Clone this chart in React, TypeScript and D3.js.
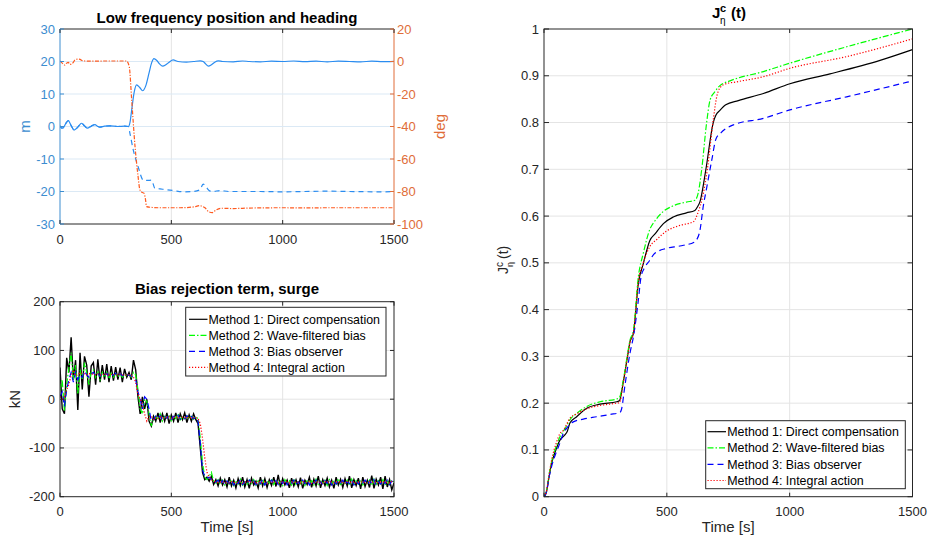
import React from 'react';
import * as d3 from 'd3';

const FONT = "'Liberation Sans', Arial, Helvetica, sans-serif";
const AX = '#262626';
const GRID = '#e4e4e4';
const GRID_BLUE = '#dbe9f5';
const BLUE_AX = '#3c8dd0';
const ORANGE_AX = '#e06d38';
const BLUE_LINE = '#2a8cf0';
const ORANGE_LINE = '#ff5a1f';

// ---------- Top-left: low frequency position and heading ----------
const posXTicks = [0, 500, 1000, 1500];
const posMTicks = [-30, -20, -10, 0, 10, 20, 30];
const headDegTicks = [-100, -80, -60, -40, -20, 0, 20];

const northPos: [number, number][] = [
  [0, 0.2], [8, -0.5], [15, -0.4], [25, 0.8], [37, 1.8], [50, 0.3], [63, -1.1], [80, -0.2],
  [97, 1.0], [110, 0.2], [123, -0.5], [140, 0.1], [157, 0.6], [170, 0.0], [179, -0.2], [200, 0.1],
  [224, 0.2], [260, 0.0], [290, 0.1], [307, 0.0], [315, 1.5], [322, 5.1], [333, 10.5], [344, 12.8],
  [358, 12.0], [371, 11.0], [385, 12.5], [400, 16.5], [411, 19.5], [422, 20.9], [435, 20.3],
  [448, 19.2], [461, 18.6], [475, 19.0], [490, 19.8], [508, 20.5], [530, 20.0], [568, 19.8],
  [600, 20.0], [630, 20.2], [643, 20.0], [655, 19.2], [666, 18.6], [680, 19.0], [695, 19.8],
  [711, 20.2], [730, 20.0], [778, 19.9], [820, 20.15], [850, 20.0], [900, 19.9], [950, 20.1],
  [1000, 20.0], [1050, 20.15], [1100, 19.95], [1150, 20.1], [1200, 19.9], [1250, 20.1],
  [1300, 20.0], [1350, 19.9], [1400, 20.1], [1450, 19.95], [1500, 20.05],
];

const eastPos: [number, number][] = [
  [0, 0.2], [8, -0.5], [15, -0.4], [25, 0.8], [37, 1.8], [50, 0.3], [63, -1.1], [80, -0.2],
  [97, 1.0], [110, 0.2], [123, -0.5], [140, 0.1], [157, 0.6], [170, 0.0], [179, -0.2], [200, 0.1],
  [224, 0.2], [260, 0.0], [290, 0.1], [307, 0.0], [314, -2.1], [329, -7.2], [351, -12.4],
  [374, -16.5], [395, -16.6], [411, -16.5], [426, -19.0], [449, -19.2], [508, -19.7], [560, -20.1],
  [598, -20.0], [628, -19.5], [643, -17.7], [658, -18.8], [672, -19.8], [688, -20.0], [718, -19.7],
  [760, -20.0], [900, -20.0], [1000, -20.1], [1100, -20.0], [1200, -19.9], [1300, -20.0],
  [1450, -20.1], [1500, -20.0],
];

const headingDeg: [number, number][] = [
  [0, 0.3], [10, -1.0], [22, -2.2], [30, -1.0], [37, -0.5], [45, -1.8], [52, -1.5], [60, -0.5],
  [67, 0.9], [80, 1.5], [90, 1.3], [100, 0.5], [112, 0.3], [150, 0.2], [200, 0.3], [250, 0.3],
  [299, 0.3], [311, -3.2], [322, -23.7], [337, -52.4], [350, -70.0], [359, -79.0], [368, -80.5],
  [377, -81.0], [383, -84.0], [389, -89.3], [404, -89.7], [450, -90.0], [539, -90.0], [600, -89.5],
  [628, -88.7], [640, -89.2], [651, -90.0], [668, -92.5], [684, -93.0], [700, -91.5], [725, -90.3],
  [778, -90.5], [850, -90.2], [1000, -90.0], [1100, -90.1], [1200, -90.0], [1300, -90.0],
  [1400, -90.0], [1500, -90.0],
];

// ---------- Bottom-left: bias rejection term, surge (kN, every 10 s) ----------
const biasTime = d3.range(0, 1501, 10);
const biasYTicks = [-200, -100, 0, 100, 200];

const biasM1 = [
  65, -20, -30, 85, 55, 127, 40, 80,
  -22, 95, 20, 88, 70, 5, 68, 75,
  30, 82, 35, 70, 40, 72, 35, 68,
  38, 66, 40, 65, 35, 62, 45, 55,
  40, 80, 60, 5, -30, 5, -20, 0,
  -45, -55, -35, -45, -28, -48, -30, -45,
  -28, -50, -32, -45, -28, -48, -30, -42,
  -28, -48, -32, -45, -30, -42, -50, -100,
  -150, -165, -160, -168, -158, -175, -165, -178,
  -162, -176, -165, -180, -160, -178, -166, -182,
  -163, -177, -160, -180, -165, -183, -162, -176,
  -168, -182, -160, -178, -163, -181, -165, -177,
  -160, -179, -155, -181, -163, -176, -166, -182,
  -162, -178, -165, -180, -161, -183, -166, -175,
  -160, -181, -164, -178, -158, -182, -165, -177,
  -162, -180, -166, -183, -160, -176, -164, -181,
  -163, -178, -158, -182, -165, -177, -162, -184,
  -160, -179, -166, -181, -157, -183, -164, -176,
  -160, -184, -158, -180, -165, -186, -172,
];
const biasM2 = [
  20, 40, -25, 30, 65, 95, 40, 70,
  10, 60, 40, 75, 55, 30, 55, 60,
  45, 58, 40, 55, 45, 55, 42, 55,
  45, 52, 46, 52, 45, 50, 48, 50,
  45, 55, 50, 20, -20, -30, 0, -5,
  -30, -55, -40, -35, -42, -30, -45, -35,
  -40, -32, -44, -35, -40, -30, -42, -36,
  -42, -34, -40, -33, -41, -36, -40, -80,
  -130, -160, -165, -158, -150, -168, -172, -165,
  -175, -166, -176, -168, -174, -165, -177, -167,
  -174, -164, -176, -168, -175, -166, -173, -165,
  -176, -167, -174, -164, -177, -168, -172, -163,
  -175, -166, -174, -168, -177, -165, -173, -167,
  -176, -164, -175, -168, -174, -166, -177, -165,
  -173, -167, -176, -164, -175, -168, -172, -166,
  -177, -165, -174, -167, -176, -163, -175, -168,
  -173, -166, -177, -164, -175, -167, -174, -165,
  -176, -168, -173, -166, -177, -164, -175, -167,
  -174, -165, -176, -168, -175, -166, -170,
];
const biasM3 = [
  5, 15, -15, 20, 40, 55, 35, 55,
  40, 50, 45, 58, 50, 45, 52, 55,
  48, 53, 47, 52, 49, 53, 47, 51,
  49, 53, 47, 52, 48, 51, 49, 50,
  47, 45, 40, 15, 0, -20, 5, 0,
  -20, -45, -42, -35, -40, -34, -42, -36,
  -39, -33, -41, -35, -38, -33, -41, -37,
  -40, -34, -39, -35, -40, -37, -45, -90,
  -145, -158, -162, -160, -165, -170, -170, -166,
  -174, -167, -175, -168, -173, -166, -176, -168,
  -173, -165, -175, -169, -174, -166, -172, -167,
  -175, -168, -173, -165, -176, -169, -172, -166,
  -174, -167, -175, -168, -173, -165, -176, -168,
  -172, -166, -175, -169, -174, -166, -173, -167,
  -176, -168, -172, -166, -174, -169, -175, -167,
  -173, -165, -176, -168, -174, -167, -172, -166,
  -175, -169, -173, -166, -176, -168, -174, -167,
  -172, -166, -175, -168, -173, -165, -176, -169,
  -174, -167, -173, -166, -175, -168, -171,
];
const biasM4 = [
  5, 0, 5, 20, 30, 50, 60, 48,
  50, 55, 52, 52, 50, 53, 51, 52,
  50, 52, 49, 51, 50, 52, 49, 51,
  50, 51, 49, 51, 50, 50, 49, 50,
  48, 45, 35, 10, 0, -10, -30, -45,
  -35, -35, -42, -38, -40, -36, -39, -37,
  -38, -36, -39, -37, -38, -36, -39, -37,
  -38, -36, -39, -37, -38, -38, -40, -50,
  -80, -120, -150, -160, -165, -168, -170, -171,
  -170, -169, -171, -170, -172, -169, -171, -170,
  -171, -169, -172, -170, -170, -168, -171, -170,
  -172, -169, -170, -171, -169, -172, -170, -169,
  -171, -170, -172, -169, -170, -171, -169, -172,
  -170, -169, -171, -170, -172, -169, -170, -171,
  -169, -172, -170, -169, -171, -170, -172, -169,
  -170, -171, -169, -172, -170, -169, -171, -170,
  -172, -169, -170, -171, -169, -172, -170, -169,
  -171, -170, -172, -169, -170, -171, -169, -172,
  -170, -169, -171, -170, -172, -169, -170,
];

// ---------- Right: J^c_eta(t) ----------
const jYTicks = [0, 0.1, 0.2, 0.3, 0.4, 0.5, 0.6, 0.7, 0.8, 0.9, 1];
const jM1: [number, number][] = [
  [0, 0], [10, 0.01], [20, 0.04], [31, 0.071], [45, 0.095], [65, 0.121], [85, 0.132], [95, 0.14],
  [106, 0.158], [133, 0.171], [174, 0.189], [228, 0.198], [296, 0.203], [307, 0.205], [323, 0.246],
  [340, 0.3], [350, 0.331], [364, 0.349], [384, 0.456], [404, 0.498], [431, 0.548], [452, 0.562],
  [486, 0.584], [526, 0.598], [580, 0.607], [614, 0.612], [625, 0.62], [635, 0.631], [659, 0.7],
  [689, 0.8], [700, 0.816], [716, 0.826], [740, 0.838], [791, 0.847], [893, 0.862], [1001, 0.883],
  [1164, 0.904], [1368, 0.933], [1500, 0.956],
];
const jM2: [number, number][] = [
  [0, 0], [10, 0.012], [20, 0.045], [31, 0.075], [45, 0.1], [65, 0.128], [85, 0.145], [106, 0.165],
  [133, 0.178], [174, 0.193], [228, 0.203], [296, 0.209], [307, 0.212], [323, 0.25], [340, 0.305],
  [350, 0.335], [364, 0.355], [384, 0.47], [404, 0.52], [431, 0.572], [452, 0.59], [486, 0.61],
  [526, 0.622], [580, 0.63], [615, 0.634], [628, 0.65], [642, 0.7], [662, 0.8], [676, 0.848],
  [696, 0.866], [716, 0.879], [757, 0.889], [893, 0.909], [1001, 0.927], [1232, 0.962], [1500, 1.0],
];
const jM3: [number, number][] = [
  [0, 0], [10, 0.01], [20, 0.04], [31, 0.065], [50, 0.095], [65, 0.115], [79, 0.136], [95, 0.148],
  [119, 0.16], [160, 0.166], [214, 0.171], [270, 0.176], [309, 0.18], [315, 0.186], [330, 0.24],
  [350, 0.307], [365, 0.345], [384, 0.42], [395, 0.47], [410, 0.49], [430, 0.505], [450, 0.52],
  [499, 0.531], [553, 0.536], [614, 0.545], [621, 0.549], [635, 0.57], [648, 0.62], [662, 0.66],
  [683, 0.72], [700, 0.765], [720, 0.778], [771, 0.795], [893, 0.809], [1001, 0.827],
  [1232, 0.855], [1500, 0.889],
];
const jM4: [number, number][] = [
  [0, 0], [10, 0.012], [20, 0.045], [31, 0.078], [50, 0.115], [65, 0.135], [79, 0.142], [106, 0.168],
  [133, 0.177], [174, 0.188], [228, 0.195], [296, 0.2], [307, 0.201], [323, 0.245], [340, 0.3],
  [350, 0.33], [364, 0.35], [384, 0.46], [404, 0.5], [431, 0.535], [459, 0.55], [499, 0.568],
  [553, 0.58], [608, 0.588], [628, 0.609], [645, 0.64], [665, 0.7], [690, 0.81], [703, 0.855],
  [716, 0.874], [736, 0.882], [784, 0.887], [893, 0.898], [1001, 0.916], [1232, 0.941], [1500, 0.979],
];

const legendLabels = [
  'Method 1: Direct compensation',
  'Method 2: Wave-filtered bias',
  'Method 3: Bias observer',
  'Method 4: Integral action',
];
const methodColors = ['#000000', '#00ff00', '#0000ff', '#ff0000'];
const methodDash = ['', '6,2,1.5,2', '6,4', '1.2,1.8'];

type Box = { x0: number; x1: number; y0: number; y1: number };

function XGrid({ box, xs, ticks, gridColor }: { box: Box; xs: d3.ScaleLinear<number, number>; ticks: number[]; gridColor: string }) {
  return (
    <g>
      {ticks.map((t) => (
        <line key={'x' + t} x1={xs(t)} x2={xs(t)} y1={box.y0} y2={box.y1} stroke={gridColor} strokeWidth={1} />
      ))}
    </g>
  );
}

function XTickMarks({ box, xs, ticks }: { box: Box; xs: d3.ScaleLinear<number, number>; ticks: number[] }) {
  return (
    <g>
      {ticks.map((t) => (
        <g key={'xt' + t}>
          <line x1={xs(t)} x2={xs(t)} y1={box.y1} y2={box.y1 - 4} stroke={AX} strokeWidth={1} />
          <line x1={xs(t)} x2={xs(t)} y1={box.y0} y2={box.y0 + 4} stroke={AX} strokeWidth={1} />
          <text x={xs(t)} y={box.y1 + 19.5} textAnchor="middle" fontSize={13} fill={AX} fontFamily={FONT}>
            {t}
          </text>
        </g>
      ))}
    </g>
  );
}

function Legend({ x, y, w, h, rowY, sampleX0, sampleX1, textX }: { x: number; y: number; w: number; h: number; rowY: number[]; sampleX0: number; sampleX1: number; textX: number }) {
  return (
    <g>
      <rect x={x} y={y} width={w} height={h} fill="#ffffff" stroke={AX} strokeWidth={1} />
      {legendLabels.map((lab, i) => (
        <g key={lab}>
          <line x1={sampleX0} x2={sampleX1} y1={rowY[i]} y2={rowY[i]} stroke={methodColors[i]} strokeWidth={1.2} strokeDasharray={methodDash[i] || undefined} />
          <text x={textX} y={rowY[i] + 4.5} fontSize={12.4} fill="#000" fontFamily={FONT}>
            {lab}
          </text>
        </g>
      ))}
    </g>
  );
}

export default function App() {
  // ---------------- top-left ----------------
  const tl: Box = { x0: 60, x1: 394, y0: 29, y1: 224 };
  const tlx = d3.scaleLinear().domain([0, 1500]).range([tl.x0, tl.x1]);
  const tlyL = d3.scaleLinear().domain([-30, 30]).range([tl.y1, tl.y0]);
  const tlyR = d3.scaleLinear().domain([-100, 20]).range([tl.y1, tl.y0]);
  const lineL = d3.line<[number, number]>().x((d) => tlx(d[0])).y((d) => tlyL(d[1])).curve(d3.curveMonotoneX);
  const lineR = d3.line<[number, number]>().x((d) => tlx(d[0])).y((d) => tlyR(d[1])).curve(d3.curveMonotoneX);

  // ---------------- bottom-left ----------------
  const bl: Box = { x0: 60, x1: 394, y0: 301.7, y1: 496.7 };
  const blx = d3.scaleLinear().domain([0, 1500]).range([bl.x0, bl.x1]);
  const bly = d3.scaleLinear().domain([-200, 200]).range([bl.y1, bl.y0]);
  const biasLine = d3.line<number>().x((_, i) => blx(biasTime[i])).y((d) => bly(d));
  const biasSeries = [biasM1, biasM2, biasM3, biasM4];

  // ---------------- right ----------------
  const rb: Box = { x0: 544, x1: 912.5, y0: 29, y1: 496.7 };
  const rx = d3.scaleLinear().domain([0, 1500]).range([rb.x0, rb.x1]);
  const ry = d3.scaleLinear().domain([0, 1]).range([rb.y1, rb.y0]);
  const jLine = d3.line<[number, number]>().x((d) => rx(d[0])).y((d) => ry(d[1])).curve(d3.curveMonotoneX);
  const jSeries = [jM1, jM2, jM3, jM4];

  return (
    <svg width={929} height={540} style={{ position: 'absolute', left: 0, top: 0, background: '#fff' }} fontFamily={FONT}>
      <rect x={0} y={0} width={929} height={540} fill="#ffffff" />

      {/* ===== Top-left ===== */}
      <g>
        <XGrid box={tl} xs={tlx} ticks={[500, 1000]} gridColor={GRID} />
        {posMTicks.filter((t) => t !== -30 && t !== 30).map((t) => (
          <line key={'gm' + t} x1={tl.x0} x2={tl.x1} y1={tlyL(t)} y2={tlyL(t)} stroke={GRID_BLUE} strokeWidth={1} />
        ))}
        <defs>
          <clipPath id="clipTL">
            <rect x={tl.x0} y={tl.y0} width={tl.x1 - tl.x0} height={tl.y1 - tl.y0} />
          </clipPath>
        </defs>
        <g clipPath="url(#clipTL)">
          <path d={lineL(northPos) || ''} fill="none" stroke={BLUE_LINE} strokeWidth={1.2} />
          <path d={lineL(eastPos) || ''} fill="none" stroke={BLUE_LINE} strokeWidth={1.2} strokeDasharray="5,4" />
          <path d={lineR(headingDeg) || ''} fill="none" stroke={ORANGE_LINE} strokeWidth={1.2} strokeDasharray="4,1.5,1.2,1.5" />
        </g>
        {/* spines */}
        <line x1={tl.x0} x2={tl.x1} y1={tl.y0} y2={tl.y0} stroke={AX} strokeWidth={1} />
        <line x1={tl.x0} x2={tl.x1} y1={tl.y1} y2={tl.y1} stroke={AX} strokeWidth={1} />
        <line x1={tl.x0} x2={tl.x0} y1={tl.y0} y2={tl.y1} stroke={BLUE_AX} strokeWidth={1} />
        <line x1={tl.x1} x2={tl.x1} y1={tl.y0} y2={tl.y1} stroke={ORANGE_AX} strokeWidth={1} />
        <XTickMarks box={tl} xs={tlx} ticks={posXTicks} />
        {posMTicks.map((t) => (
          <g key={'lm' + t}>
            <line x1={tl.x0} x2={tl.x0 + 4} y1={tlyL(t)} y2={tlyL(t)} stroke={BLUE_AX} strokeWidth={1} />
            <text x={tl.x0 - 5} y={tlyL(t) + 4.5} textAnchor="end" fontSize={13} fill={BLUE_AX}>
              {t}
            </text>
          </g>
        ))}
        {headDegTicks.map((t) => (
          <g key={'rd' + t}>
            <line x1={tl.x1} x2={tl.x1 - 4} y1={tlyR(t)} y2={tlyR(t)} stroke={ORANGE_AX} strokeWidth={1} />
            <text x={tl.x1 + 3} y={tlyR(t) + 4.5} textAnchor="start" fontSize={13} fill={ORANGE_AX}>
              {t}
            </text>
          </g>
        ))}
        <text x={(tl.x0 + tl.x1) / 2} y={22.5} textAnchor="middle" fontSize={15} fontWeight="bold" fill="#000">
          Low frequency position and heading
        </text>
        <text transform={`translate(30,${(tl.y0 + tl.y1) / 2}) rotate(-90)`} textAnchor="middle" fontSize={15} fill={BLUE_AX}>
          m
        </text>
        <text transform={`translate(445,${(tl.y0 + tl.y1) / 2}) rotate(-90)`} textAnchor="middle" fontSize={15} fill={ORANGE_AX}>
          deg
        </text>
      </g>

      {/* ===== Bottom-left ===== */}
      <g>
        <XGrid box={bl} xs={blx} ticks={[500, 1000]} gridColor={GRID} />
        {[-100, 0, 100].map((t) => (
          <line key={'gb' + t} x1={bl.x0} x2={bl.x1} y1={bly(t)} y2={bly(t)} stroke={GRID} strokeWidth={1} />
        ))}
        <defs>
          <clipPath id="clipBL">
            <rect x={bl.x0} y={bl.y0} width={bl.x1 - bl.x0} height={bl.y1 - bl.y0} />
          </clipPath>
        </defs>
        <g clipPath="url(#clipBL)">
          {biasSeries.map((s, i) => (
            <path key={'b' + i} d={biasLine(s) || ''} fill="none" stroke={methodColors[i]} strokeWidth={i === 0 ? 1.4 : 1.2} strokeDasharray={methodDash[i] || undefined} />
          ))}
        </g>
        <rect x={bl.x0} y={bl.y0} width={bl.x1 - bl.x0} height={bl.y1 - bl.y0} fill="none" stroke={AX} strokeWidth={1} />
        <XTickMarks box={bl} xs={blx} ticks={posXTicks} />
        {biasYTicks.map((t) => (
          <g key={'by' + t}>
            <line x1={bl.x0} x2={bl.x0 + 4} y1={bly(t)} y2={bly(t)} stroke={AX} strokeWidth={1} />
            <line x1={bl.x1} x2={bl.x1 - 4} y1={bly(t)} y2={bly(t)} stroke={AX} strokeWidth={1} />
            <text x={bl.x0 - 5} y={bly(t) + 4.5} textAnchor="end" fontSize={13} fill={AX}>
              {t}
            </text>
          </g>
        ))}
        <text x={(bl.x0 + bl.x1) / 2} y={293.5} textAnchor="middle" fontSize={15} fontWeight="bold" fill="#000">
          Bias rejection term, surge
        </text>
        <text transform={`translate(20,${(bl.y0 + bl.y1) / 2}) rotate(-90)`} textAnchor="middle" fontSize={15} fill={AX}>
          kN
        </text>
        <text x={(bl.x0 + bl.x1) / 2} y={532} textAnchor="middle" fontSize={15} fill={AX}>
          Time [s]
        </text>
        <Legend x={185.7} y={307.3} w={200.3} h={68.7} rowY={[319.3, 335.3, 351.3, 367.3]} sampleX0={189} sampleX1={207.5} textX={208.5} />
      </g>

      {/* ===== Right ===== */}
      <g>
        <XGrid box={rb} xs={rx} ticks={[500, 1000]} gridColor={GRID} />
        {jYTicks.filter((t) => t > 0 && t < 1).map((t) => (
          <line key={'gj' + t} x1={rb.x0} x2={rb.x1} y1={ry(t)} y2={ry(t)} stroke={GRID} strokeWidth={1} />
        ))}
        <defs>
          <clipPath id="clipR">
            <rect x={rb.x0} y={rb.y0 - 1} width={rb.x1 - rb.x0} height={rb.y1 - rb.y0 + 2} />
          </clipPath>
        </defs>
        <g clipPath="url(#clipR)">
          {jSeries.map((s, i) => (
            <path key={'j' + i} d={jLine(s) || ''} fill="none" stroke={methodColors[i]} strokeWidth={1.2} strokeDasharray={methodDash[i] || undefined} />
          ))}
        </g>
        <rect x={rb.x0} y={rb.y0} width={rb.x1 - rb.x0} height={rb.y1 - rb.y0} fill="none" stroke={AX} strokeWidth={1} />
        <XTickMarks box={rb} xs={rx} ticks={posXTicks} />
        {jYTicks.map((t) => (
          <g key={'jy' + t}>
            <line x1={rb.x0} x2={rb.x0 + 5} y1={ry(t)} y2={ry(t)} stroke={AX} strokeWidth={1} />
            <line x1={rb.x1} x2={rb.x1 - 5} y1={ry(t)} y2={ry(t)} stroke={AX} strokeWidth={1} />
            <text x={rb.x0 - 5} y={ry(t) + 4.5} textAnchor="end" fontSize={13} fill={AX}>
              {d3.format('~g')(t)}
            </text>
          </g>
        ))}
        {/* title J^c_eta (t) */}
        <g fontWeight="bold" fill="#000">
          <text x={712} y={17.5} fontSize={15}>J</text>
          <text x={720} y={12} fontSize={11}>c</text>
          <text x={720} y={24} fontSize={10} fontWeight="normal">η</text>
          <text x={731} y={17.5} fontSize={15}>(t)</text>
        </g>
        {/* y label */}
        <g transform="translate(508,262) rotate(-90)" fill={AX}>
          <text x={-12} y={0} fontSize={14}>J</text>
          <text x={-5} y={-5} fontSize={10}>c</text>
          <text x={-5} y={5} fontSize={9}>η</text>
          <text x={3} y={0} fontSize={14}>(t)</text>
        </g>
        <text x={(rb.x0 + rb.x1) / 2} y={532} textAnchor="middle" fontSize={15} fill={AX}>
          Time [s]
        </text>
        <Legend x={705.7} y={420.7} w={199.6} h={68} rowY={[431.7, 447.9, 464.3, 480.5]} sampleX0={707.5} sampleX1={726} textX={727.3} />
      </g>
    </svg>
  );
}
